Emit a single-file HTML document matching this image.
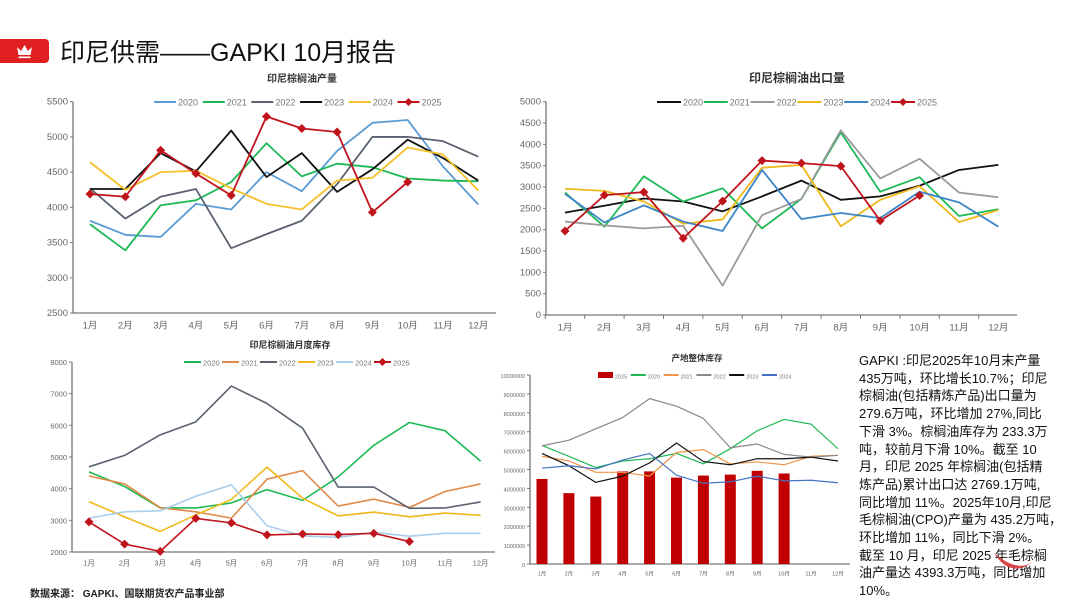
<!DOCTYPE html>
<html><head><meta charset="utf-8">
<style>
html,body{margin:0;padding:0;background:#fff;}
body{width:1080px;height:608px;position:relative;overflow:hidden;font-family:"Liberation Sans","Noto Sans CJK SC",sans-serif;}
#title{position:absolute;left:60px;top:33px;font-size:25px;color:#111;font-family:"Liberation Sans Narrow","Liberation Sans","Noto Sans CJK SC",sans-serif;letter-spacing:0px;white-space:nowrap;}
#badge{position:absolute;left:0;top:39px;width:49px;height:24px;background:#e02020;border-radius:0 4px 4px 0;}
#note{position:absolute;left:859px;top:352px;width:200px;font-size:13px;line-height:17.7px;color:#111;font-family:"Liberation Sans","Noto Sans CJK SC",sans-serif;white-space:nowrap;}
#src{position:absolute;left:30px;top:585px;font-size:10px;font-weight:bold;color:#222;font-family:"Liberation Sans","Noto Sans CJK SC",sans-serif;}
svg text{font-family:"Liberation Sans","Noto Sans CJK SC",sans-serif;}
</style></head><body>
<div id="badge">
<svg width="49" height="24"><path d="M17 8 L21 12 L24.5 6 L28 12 L32 8 L30.5 16 L18.5 16 Z" fill="#fff"/><rect x="18.5" y="17.5" width="12" height="1.6" fill="#fff"/></svg>
</div>
<div id="title">印尼供需——GAPKI 10月报告</div>
<svg id="chart" width="1080" height="608" style="position:absolute;left:0;top:0"></svg>
<div id="note">GAPKI :印尼2025年10月末产量<br>435万吨，环比增长10.7%；印尼<br>棕榈油(包括精炼产品)出口量为<br>279.6万吨，环比增加 27%,同比<br>下滑 3%。棕榈油库存为 233.3万<br>吨，较前月下滑 10%。截至 10<br>月，印尼 2025 年棕榈油(包括精<br>炼产品)累计出口达 2769.1万吨,<br>同比增加 11%。2025年10月,印尼<br>毛棕榈油(CPO)产量为 435.2万吨，<br>环比增加 11%，同比下滑 2%。<br>截至 10 月，印尼 2025 年毛棕榈<br>油产量达 4393.3万吨，同比增加<br>10%。</div>
<div id="src">数据来源：  GAPKI、国联期货农产品事业部</div>
<svg width="60" height="40" style="position:absolute;left:990px;top:545px"><path d="M4 8 Q22 36 46 14 Q30 30 4 8 Z" fill="#d42a2a" opacity="0.85"/></svg>
<script>
const months = ['1月','2月','3月','4月','5月','6月','7月','8月','9月','10月','11月','12月'];
// Chart 1: production
const prodYears = ['2020','2021','2022','2023','2024','2025'];
const prod2020 = [3810,3610,3580,4050,3970,4500,4230,4800,5200,5240,4580,4040];
const prod2021 = [3760,3390,4030,4100,4360,4910,4440,4620,4570,4410,4380,4370];
const prod2022 = [4270,3840,4150,4260,3420,3620,3810,4330,5000,5000,4940,4720];
const prod2023 = [4260,4260,4770,4510,5090,4430,4770,4220,4540,4960,4700,4380];
const prod2024 = [4640,4250,4500,4520,4270,4050,3970,4380,4420,4850,4750,4240];
const prod2025 = [4190,4150,4810,4480,4170,5290,5120,5070,3930,4360];
const prodTicks = [2500,3000,3500,4000,4500,5000,5500];
// Chart 2: exports
const expYears = ['2020','2021','2022','2023','2024','2025'];
const exp2020 = [2400,2560,2730,2660,2430,2780,3150,2700,2780,3030,3400,3520];
const exp2021 = [2870,2070,3250,2660,2970,2030,2720,4280,2890,3230,2320,2480];
const exp2022 = [2190,2100,2030,2090,690,2340,2720,4330,3200,3660,2870,2760];
const exp2023 = [2960,2910,2660,2140,2240,3450,3520,2080,2700,3020,2180,2460];
const exp2024 = [2840,2170,2570,2190,1970,3400,2250,2390,2270,2890,2640,2070];
const exp2025 = [1970,2810,2880,1800,2670,3620,3560,3490,2210,2800];
const expTicks = [0,500,1000,1500,2000,2500,3000,3500,4000,4500,5000];
// Chart 3: stocks
const stkYears = ['2020','2021','2022','2023','2024','2025'];
const stk2020 = [4530,4070,3390,3390,3550,3970,3630,4370,5370,6090,5830,4870];
const stk2021 = [4400,4150,3400,3270,3070,4300,4570,3450,3670,3410,3910,4150];
const stk2022 = [4690,5050,5700,6110,7240,6690,5910,4050,4050,3380,3390,3580];
const stk2023 = [3590,3110,2650,3170,3660,4680,3700,3140,3260,3110,3230,3160];
const stk2024 = [3070,3270,3300,3760,4120,2830,2510,2460,2620,2500,2590,2590];
const stk2025 = [2950,2250,2020,3060,2920,2540,2570,2550,2590,2330];
const stkTicks = [2000,3000,4000,5000,6000,7000,8000];
// Chart 4: total stocks
const totYears = ['2025','2020','2021','2022','2023','2024'];
const totBar2025 = [4500000,3750000,3570000,4900000,4900000,4570000,4680000,4730000,4930000,4790000];
const tot2020 = [6270000,5700000,5100000,5450000,5570000,5850000,5300000,6100000,7050000,7650000,7400000,6100000];
const tot2021 = [5700000,5450000,4850000,4850000,4650000,5900000,6050000,5300000,5400000,5250000,5700000,5750000];
const tot2022 = [6250000,6550000,7150000,7750000,8750000,8350000,7700000,6150000,6350000,5800000,5650000,5750000];
const tot2023 = [5850000,5200000,4320000,4650000,5350000,6400000,5420000,5250000,5570000,5570000,5650000,5450000];
const tot2024 = [5070000,5200000,5030000,5500000,5850000,4700000,4270000,4350000,4650000,4400000,4430000,4300000];
const totTicks = [0,1000000,2000000,3000000,4000000,5000000,6000000,7000000,8000000,9000000,10000000];

const svg = document.getElementById('chart');
const NS = 'http://www.w3.org/2000/svg';
function mk(tag, attrs, parent){const e=document.createElementNS(NS,tag);for(const k in attrs)e.setAttribute(k,attrs[k]);(parent||svg).appendChild(e);return e;}

function chart(cfg){
  const g = mk('g',{});
  
  
  const ymin=cfg.ticks[0], ymax=cfg.ticks[cfg.ticks.length-1];
  const ys = v => cfg.y0 + (cfg.y1-cfg.y0)*(v-ymin)/(ymax-ymin);
  const xs = i => cfg.x0 + i*cfg.step;
  const t = mk('text',{x:cfg.tx,y:cfg.ty,'font-size':cfg.tfs,'font-weight':'bold','text-anchor':'middle',fill:'#333'},g);
  t.textContent = cfg.title;
  
  
  const ya = mk('line',{x1:cfg.ax,x2:cfg.ax,y1:cfg.y1,y2:cfg.y0,stroke:'#777','stroke-width':1.3},g);
  
  
  const xa = mk('line',{x1:cfg.ax,x2:cfg.axr,y1:cfg.y0,y2:cfg.y0,stroke:'#777','stroke-width':1.3},g);
  
  
  cfg.ticks.forEach(v=>{
    const y=ys(v);
    mk('line',{x1:cfg.ax-3,x2:cfg.ax,y1:y,y2:y,stroke:'#777'},g);
    const l=mk('text',{x:cfg.ax-5,y:y+3,'font-size':cfg.fs,'text-anchor':'end',fill:'#666'},g);
    l.textContent=v;
    
    
  });
  months.forEach((m,i)=>{
    if(cfg.xticks){const xt=xs(i)-cfg.step/2;mk('line',{x1:xt,x2:xt,y1:cfg.y0,y2:cfg.y0+4,stroke:'#777'},g);}
    const l=mk('text',{x:xs(i),y:cfg.y0+cfg.fs+6,'font-size':cfg.fs,'text-anchor':'middle',fill:'#666'},g);
    l.textContent=m;
    
    
  });
  if(cfg.bars){
    cfg.bars.forEach((v,i)=>{
      const b=mk('rect',{x:xs(i)-cfg.bw/2,y:ys(v),width:cfg.bw,height:cfg.y0-ys(v),fill:'#c00000'},g);
      
      
    });
  }
  cfg.series.forEach(s=>{
    const p=mk('polyline',{points:s.data.map((v,i)=>xs(i)+','+ys(v)).join(' '),fill:'none',stroke:s.color,'stroke-width':cfg.lw,'stroke-linejoin':'round'},g);
    
    
    if(s.marker){
      s.data.forEach((v,i)=>{
        const d=mk('path',{d:`M${xs(i)} ${ys(v)-4.5}L${xs(i)+4.5} ${ys(v)}L${xs(i)} ${ys(v)+4.5}L${xs(i)-4.5} ${ys(v)}Z`,fill:s.color},g);
        
        
      });
    }
  });
  cfg.legend.forEach((s,i)=>{
    const lx=cfg.lx+i*cfg.lsp, ly=cfg.ly;
    const lg=mk('g',{},g);
    
    
    if(s.bar){mk('rect',{x:lx,y:ly-3,width:cfg.sw,height:6,fill:s.color},lg);}
    else{mk('line',{x1:lx,x2:lx+cfg.sw,y1:ly,y2:ly,stroke:s.color,'stroke-width':2},lg);}
    if(s.marker){const cx=lx+cfg.sw/2;mk('path',{d:`M${cx} ${ly-4}L${cx+4} ${ly}L${cx} ${ly+4}L${cx-4} ${ly}Z`,fill:s.color},lg);}
    const tt=mk('text',{x:lx+cfg.sw+2,y:ly+3.5,'font-size':cfg.lfs,fill:'#777'},lg);
    tt.textContent=s.label;
  });
}
const S=(d,l,c,m)=>({data:d,label:l,color:c,marker:!!m});
const c1=[S(prod2020,'2020','#5b9bd5'),S(prod2021,'2021','#1db954'),S(prod2022,'2022','#5a6270'),S(prod2023,'2023','#111'),S(prod2024,'2024','#f5c02a'),S(prod2025,'2025','#c0141c',1)];
chart({name:'production-chart',title:'印尼棕榈油产量',tx:302,ty:82,tfs:10,ax:73,axr:496,x0:90,step:35.3,y0:313,y1:101.7,ticks:prodTicks,fs:9.5,lw:1.8,series:c1,legend:c1,lx:154,ly:102,lsp:48.7,sw:22,lfs:9,xticks:false});
const c2=[S(exp2020,'2020','#111'),S(exp2021,'2021','#1db954'),S(exp2022,'2022','#9a9a9a'),S(exp2023,'2023','#f0b81a'),S(exp2024,'2024','#3d85c6'),S(exp2025,'2025','#c0141c',1)];
chart({name:'exports-chart',title:'印尼棕榈油出口量',tx:797,ty:82,tfs:12,ax:546,axr:1017,x0:565,step:39.4,y0:315,y1:101.7,ticks:expTicks,fs:9.5,lw:1.8,series:c2,legend:c2,lx:657,ly:102,lsp:46.8,sw:24,lfs:9,xticks:true});
const c3=[S(stk2020,'2020','#1db954'),S(stk2021,'2021','#e08a4a'),S(stk2022,'2022','#5a6270'),S(stk2023,'2023','#f0b81a'),S(stk2024,'2024','#a9cdea'),S(stk2025,'2025','#c0141c',1)];
chart({name:'stocks-chart',title:'印尼棕榈油月度库存',tx:290,ty:348,tfs:9,ax:72,axr:495,x0:89,step:35.6,y0:552,y1:362,ticks:stkTicks,fs:7.5,lw:1.6,series:c3,legend:c3,lx:184,ly:362,lsp:38,sw:17,lfs:7.5,xticks:false});
const c4=[S(tot2020,'2020','#1db954'),S(tot2021,'2021','#f0954a'),S(tot2022,'2022','#888'),S(tot2023,'2023','#111'),S(tot2024,'2024','#4472c4')];
const leg4=[{label:'2025',color:'#c00000',bar:true}].concat(c4);
chart({name:'total-stocks-chart',title:'产地整体库存',tx:697,ty:361,tfs:8.5,ax:530,axr:850,x0:542,step:26.9,y0:564,y1:375,ticks:totTicks,fs:5.5,lw:1.2,series:c4,bars:totBar2025,bw:11,legend:leg4,lx:598,ly:375,lsp:32.8,sw:15,lfs:5.5,xticks:false});
</script>
</body></html>
